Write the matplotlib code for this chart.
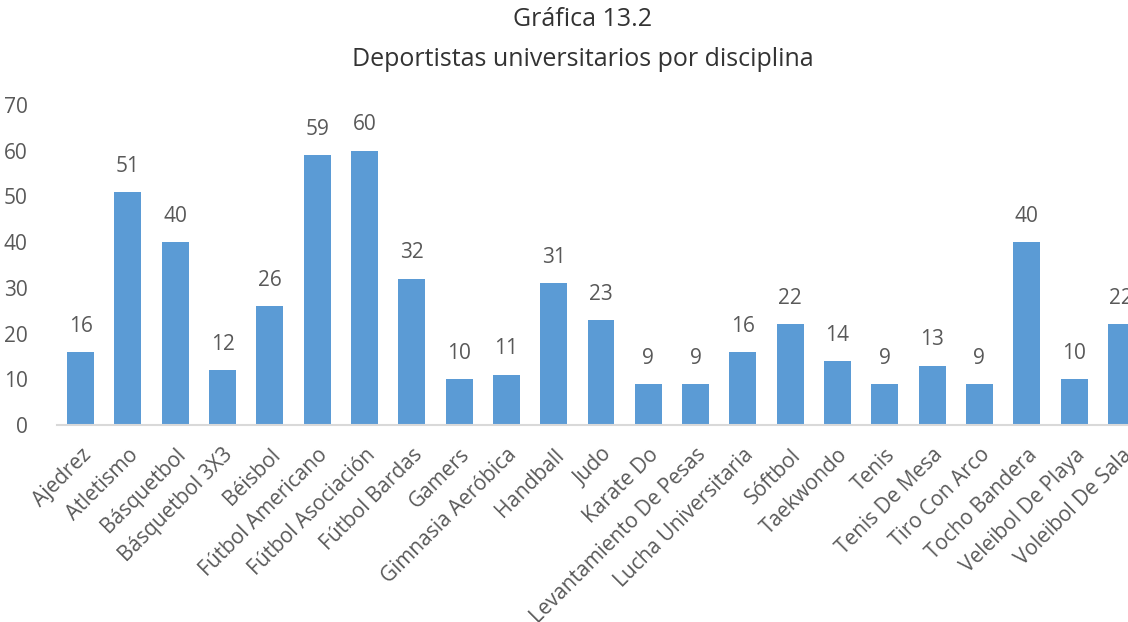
import matplotlib
matplotlib.use("Agg")
import matplotlib.pyplot as plt

categories = ["Ajedrez", "Atletismo", "Básquetbol", "Básquetbol 3X3", "Béisbol",
              "Fútbol Americano", "Fútbol Asociación", "Fútbol Bardas", "Gamers",
              "Gimnasia Aeróbica", "Handball", "Judo", "Karate Do",
              "Levantamiento De Pesas", "Lucha Universitaria", "Sóftbol", "Taekwondo",
              "Tenis", "Tenis De Mesa", "Tiro Con Arco", "Tocho Bandera",
              "Veleibol De Playa", "Voleibol De Sala"]
values = [16, 51, 40, 12, 26, 59, 60, 32, 10, 11, 31, 23, 9, 9, 16, 22, 14, 9, 13, 9, 40, 10, 22]
yticks = [0, 10, 20, 30, 40, 50, 60, 70]
title_lines = ["Gráfica 13.2", "Deportistas universitarios por disciplina"]

plt.rcParams['font.family'] = ['Open Sans', 'DejaVu Sans']
text_color = "#595959"
bar_color = "#5B9BD5"

W, H = 1128, 622
fig = plt.figure(figsize=(W / 100, H / 100), dpi=100)
left, right, bottom, top = 57, 1145, 425, 105
ax = fig.add_axes([left / W, (H - bottom) / H, (right - left) / W, (bottom - top) / H])

x = list(range(len(categories)))
ax.bar(x, values, width=0.57, color=bar_color)
ax.set_xlim(-0.5, len(categories) - 0.5)
ax.set_ylim(0, 70)
ax.set_yticks(yticks)
ax.set_yticklabels([str(t) for t in yticks], fontsize=15, color=text_color)
ax.tick_params(axis='y', length=0, pad=21)
ax.tick_params(axis='x', length=0, pad=14)
ax.set_xticks(x)
ax.set_xticklabels(categories, rotation=45, ha='right', va='top',
                   rotation_mode='anchor', fontsize=15, color=text_color)
for s in ['top', 'right', 'left']:
    ax.spines[s].set_visible(False)
ax.spines['bottom'].set_color("#D9D9D9")
ax.spines['bottom'].set_linewidth(1.5)

for xi, v in zip(x, values):
    ax.annotate(str(v), (xi, v), xytext=(0, 11), textcoords='offset points',
                ha='center', va='bottom', fontsize=15, color=text_color)

fig.text(583 / W, 1 - 20 / H, title_lines[0], ha='center', va='center',
         fontsize=18, color="#333333")
fig.text(583 / W, 1 - 60 / H, title_lines[1], ha='center', va='center',
         fontsize=18, color="#333333")

fig.savefig("out.png", dpi=100)
